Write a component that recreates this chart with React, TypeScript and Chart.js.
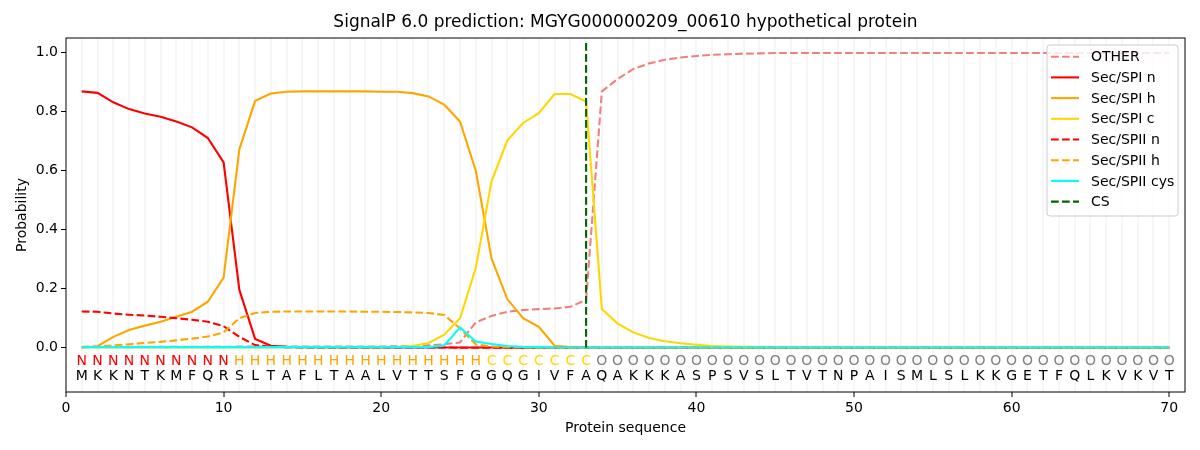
import React, { useEffect, useRef } from "react";
import { Chart, registerables } from "chart.js";

Chart.register(...registerables);

const residues = "MKKNTKMFQRSLTAFLTAALVTTSFGGQGIVFAQAKKKASPSVSLTVTNPAISMLSLKKGETFQLKVKVT".split("");
const regions = "NNNNNNNNNNHHHHHHHHHHHHHHHHCCCCCCCOOOOOOOOOOOOOOOOOOOOOOOOOOOOOOOOOOOOO".split("");

const otherProb = [
  0.003, 0.003, 0.003, 0.003, 0.003, 0.003, 0.003, 0.003, 0.003, 0.003,
  0.004, 0.004, 0.004, 0.004, 0.004, 0.004, 0.004, 0.004, 0.004, 0.004,
  0.005, 0.005, 0.008, 0.012, 0.018, 0.086, 0.108, 0.122, 0.128, 0.131,
  0.133, 0.139, 0.162, 0.869, 0.911, 0.945, 0.964, 0.976, 0.984, 0.989,
  0.993, 0.995, 0.997, 0.998, 0.999, 0.999, 0.999, 0.999, 0.999, 0.999,
  0.999, 0.999, 0.999, 0.999, 0.999, 0.999, 0.999, 0.999, 0.999, 0.999,
  0.999, 0.999, 0.999, 0.999, 0.999, 0.999, 0.999, 0.999, 0.999, 0.999,
];
const spiN = [
  0.869, 0.864, 0.832, 0.809, 0.794, 0.783, 0.767, 0.747, 0.711, 0.628,
  0.196, 0.03, 0.007, 0.003, 0.002, 0.002, 0.001, 0.001, 0.001, 0.001,
  0.001, 0.001, 0.001, 0.001, 0.001, 0.001, 0.001, 0, 0, 0,
  0, 0, 0, 0, 0, 0, 0, 0, 0, 0,
  0, 0, 0, 0, 0, 0, 0, 0, 0, 0,
  0, 0, 0, 0, 0, 0, 0, 0, 0, 0,
  0, 0, 0, 0, 0, 0, 0, 0, 0, 0,
];
const spiH = [
  0.0, 0.005, 0.037, 0.06, 0.075, 0.088, 0.105, 0.122, 0.156, 0.238,
  0.673, 0.837, 0.862, 0.868, 0.869, 0.869, 0.869, 0.869, 0.869, 0.868,
  0.868, 0.863, 0.852, 0.824, 0.767, 0.6, 0.303, 0.165, 0.1, 0.071,
  0.007, 0.002, 0.001, 0, 0, 0, 0, 0, 0, 0,
  0, 0, 0, 0, 0, 0, 0, 0, 0, 0,
  0, 0, 0, 0, 0, 0, 0, 0, 0, 0,
  0, 0, 0, 0, 0, 0, 0, 0, 0, 0,
];
const spiC = [
  0.001, 0.001, 0.001, 0.001, 0.001, 0.001, 0.001, 0.001, 0.001, 0.001,
  0.001, 0.001, 0.001, 0.001, 0.001, 0.001, 0.001, 0.001, 0.001, 0.001,
  0.002, 0.006, 0.016, 0.044, 0.1, 0.27, 0.564, 0.702, 0.762, 0.795,
  0.86, 0.86, 0.835, 0.131, 0.082, 0.052, 0.033, 0.022, 0.015, 0.01,
  0.006, 0.004, 0.003, 0.002, 0.001, 0.001, 0.001, 0.001, 0.001, 0.001,
  0.001, 0.001, 0.001, 0.001, 0.001, 0.001, 0.001, 0.001, 0.001, 0.001,
  0.001, 0.001, 0.001, 0.001, 0.001, 0.001, 0.001, 0.001, 0.001, 0.001,
];
const spiiN = [
  0.123, 0.122, 0.116, 0.112, 0.109, 0.105, 0.1, 0.095, 0.088, 0.073,
  0.037, 0.009, 0.003, 0.002, 0.001, 0.001, 0.001, 0.001, 0.001, 0.001,
  0.001, 0.001, 0.001, 0.001, 0, 0, 0, 0, 0, 0,
  0, 0, 0, 0, 0, 0, 0, 0, 0, 0,
  0, 0, 0, 0, 0, 0, 0, 0, 0, 0,
  0, 0, 0, 0, 0, 0, 0, 0, 0, 0,
  0, 0, 0, 0, 0, 0, 0, 0, 0, 0,
];
const spiiH = [
  0.002, 0.004, 0.008, 0.012, 0.016, 0.02, 0.025, 0.031, 0.038, 0.052,
  0.1, 0.118, 0.122, 0.123, 0.123, 0.123, 0.123, 0.123, 0.122, 0.122,
  0.121, 0.12, 0.118, 0.111, 0.065, 0.012, 0.004, 0.002, 0.001, 0,
  0, 0, 0, 0, 0, 0, 0, 0, 0, 0,
  0, 0, 0, 0, 0, 0, 0, 0, 0, 0,
  0, 0, 0, 0, 0, 0, 0, 0, 0, 0,
  0, 0, 0, 0, 0, 0, 0, 0, 0, 0,
];
const spiiCys = [
  0.002, 0.002, 0.002, 0.002, 0.002, 0.002, 0.002, 0.002, 0.002, 0.002,
  0.002, 0.002, 0.002, 0.002, 0.002, 0.002, 0.002, 0.002, 0.002, 0.002,
  0.002, 0.002, 0.002, 0.008, 0.069, 0.021, 0.013, 0.006, 0.003, 0.002,
  0.001, 0.001, 0.001, 0.001, 0.001, 0.001, 0.001, 0.001, 0.001, 0.001,
  0.001, 0.001, 0.001, 0.001, 0.001, 0.001, 0.001, 0.001, 0.001, 0.001,
  0.001, 0.001, 0.001, 0.001, 0.001, 0.001, 0.001, 0.001, 0.001, 0.001,
  0.001, 0.001, 0.001, 0.001, 0.001, 0.001, 0.001, 0.001, 0.001, 0.001,
];
const csPos = 33;
const csLine = [0, 1.035];

const xTicks = [0, 10, 20, 30, 40, 50, 60, 70];
const yTicks = [0, 0.2, 0.4, 0.6, 0.8, 1.0];

const regionColors: Record<string, string> = { N: "red", H: "orange", C: "gold", O: "gray" };
const FONT = "'DejaVu Sans', sans-serif";
const DASH = [7.7, 3.3];

const toPoints = (vals: number[]) => vals.map((y, i) => ({ x: i + 1, y }));

const series = [
  { label: "OTHER", data: toPoints(otherProb), color: "#f08080", dash: DASH },
  { label: "Sec/SPI n", data: toPoints(spiN), color: "red", dash: [] },
  { label: "Sec/SPI h", data: toPoints(spiH), color: "orange", dash: [] },
  { label: "Sec/SPI c", data: toPoints(spiC), color: "gold", dash: [] },
  { label: "Sec/SPII n", data: toPoints(spiiN), color: "red", dash: DASH },
  { label: "Sec/SPII h", data: toPoints(spiiH), color: "orange", dash: DASH },
  { label: "Sec/SPII cys", data: toPoints(spiiCys), color: "cyan", dash: [] },
  { label: "CS", data: csLine.map((y) => ({ x: csPos, y })), color: "darkgreen", dash: DASH },
];

// sequence letters, legend and frame drawn on top of the lines
const overlayPlugin = {
  id: "overlay",
  afterDatasetsDraw(chart: any) {
    const { ctx, chartArea, scales } = chart;
    const x = scales.x;
    const y = scales.y;
    ctx.save();
    ctx.font = `14px ${FONT}`;
    ctx.textAlign = "center";
    ctx.textBaseline = "middle";
    residues.forEach((r, i) => {
      const px = x.getPixelForValue(i + 1);
      ctx.fillStyle = regionColors[regions[i]];
      ctx.fillText(regions[i], px, y.getPixelForValue(-0.047));
      ctx.fillStyle = "#000";
      ctx.fillText(r, px, y.getPixelForValue(-0.098));
    });

    // frame
    ctx.strokeStyle = "#000";
    ctx.lineWidth = 1;
    ctx.strokeRect(chartArea.left, chartArea.top, chartArea.right - chartArea.left, chartArea.bottom - chartArea.top);

    // title
    ctx.font = `17px ${FONT}`;
    ctx.fillText("SignalP 6.0 prediction: MGYG000000209_00610 hypothetical protein", (chartArea.left + chartArea.right) / 2, 23);

    // legend
    const bx = 1047, by = 45, bw = 131, bh = 171;
    ctx.beginPath();
    ctx.roundRect(bx, by, bw, bh, 3);
    ctx.fillStyle = "rgba(255,255,255,0.8)";
    ctx.fill();
    ctx.strokeStyle = "#cccccc";
    ctx.stroke();
    ctx.font = `14px ${FONT}`;
    ctx.textAlign = "left";
    series.forEach((s, i) => {
      const ly = 56.7 + i * 20.7;
      ctx.beginPath();
      ctx.setLineDash(s.dash);
      ctx.strokeStyle = s.color;
      ctx.lineWidth = 2.1;
      ctx.moveTo(1051, ly);
      ctx.lineTo(1079, ly);
      ctx.stroke();
      ctx.setLineDash([]);
      ctx.fillStyle = "#000";
      ctx.fillText(s.label, 1091, ly + 1);
    });
    ctx.restore();
  },
};

const App: React.FC = () => {
  const chartRef = useRef<HTMLCanvasElement | null>(null);

  useEffect(() => {
    const ctx = chartRef.current?.getContext("2d");
    if (!ctx) {
      return;
    }

    const myChart = new Chart(ctx, {
      type: "line",
      data: {
        datasets: series.map((s, i) => ({
          label: s.label,
          data: s.data,
          borderColor: s.color,
          backgroundColor: s.color,
          borderDash: s.dash,
          borderWidth: 2.1,
          pointRadius: 0,
          tension: 0,
          fill: false,
          order: series.length - i,
        })),
      },
      options: {
        animation: false,
        responsive: true,
        maintainAspectRatio: false,
        layout: { padding: { top: 38, right: 15, left: 0, bottom: 0 } },
        plugins: {
          legend: { display: false },
          tooltip: { enabled: false },
          title: { display: false },
        },
        scales: {
          x: {
            type: "linear",
            min: 0,
            max: 71,
            afterBuildTicks: (scale: any) => {
              scale.ticks = residues.map((_, i) => ({ value: i })).concat([{ value: 70 }]);
            },
            afterFit: (scale: any) => {
              scale.height = 58;
            },
            grid: {
              color: (c: any) => (c.tick && c.tick.value > 0 ? "#f6f6f6" : "transparent"),
              lineWidth: 2,
              tickColor: (c: any) => (c.tick && xTicks.includes(c.tick.value) ? "#000" : "transparent"),
              tickWidth: 1,
              tickLength: 5,
            },
            border: { display: false },
            ticks: {
              autoSkip: false,
              maxRotation: 0,
              padding: 3,
              color: "#000",
              font: { family: FONT, size: 14 },
              callback: (v: any) => (xTicks.includes(v) ? String(v) : ""),
            },
            title: {
              display: true,
              text: "Protein sequence",
              color: "#000",
              font: { family: FONT, size: 14 },
              padding: { top: 0, bottom: 13 },
            },
          },
          y: {
            min: -0.15,
            max: 1.05,
            afterBuildTicks: (scale: any) => {
              scale.ticks = yTicks.map((v) => ({ value: v }));
            },
            afterFit: (scale: any) => {
              scale.width = 66;
            },
            grid: {
              drawOnChartArea: false,
              tickColor: "#000",
              tickLength: 5,
            },
            border: { display: false },
            ticks: {
              padding: 3,
              color: "#000",
              font: { family: FONT, size: 14 },
              callback: (v: any) => Number(v).toFixed(1),
            },
            title: {
              display: true,
              text: "Probability",
              color: "#000",
              font: { family: FONT, size: 14 },
              padding: { top: 14, bottom: 0 },
            },
          },
        },
      },
      plugins: [overlayPlugin],
    });

    return () => {
      myChart.destroy();
    };
  }, []);

  return (
    <div style={{ position: "absolute", left: 0, top: 0, width: 1200, height: 450 }}>
      <canvas ref={chartRef} />
    </div>
  );
};

export default App;
